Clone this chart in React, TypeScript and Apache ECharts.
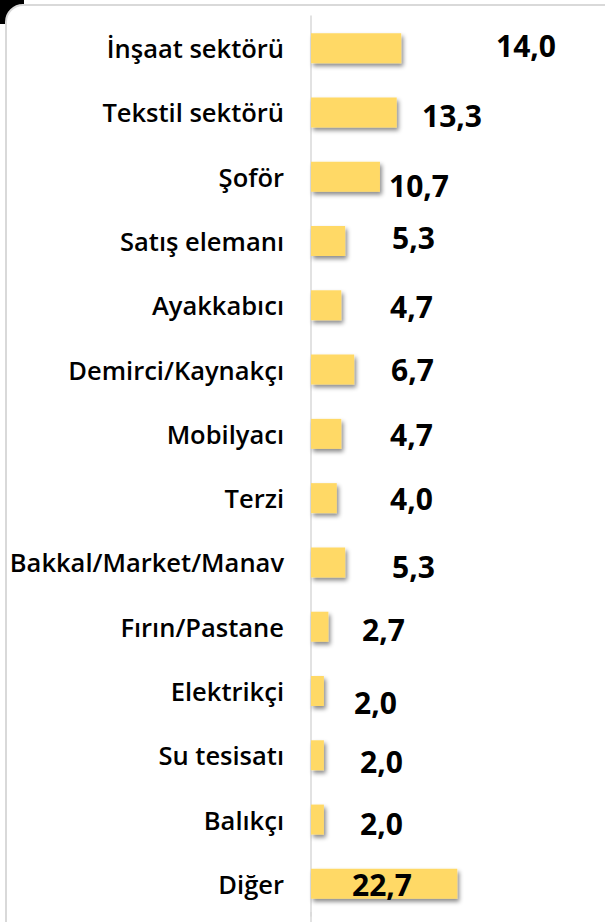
import React, { useEffect, useRef } from "react";
import * as echarts from "echarts";

const categories = [
  "İnşaat sektörü",
  "Tekstil sektörü",
  "Şoför",
  "Satış elemanı",
  "Ayakkabıcı",
  "Demirci/Kaynakçı",
  "Mobilyacı",
  "Terzi",
  "Bakkal/Market/Manav",
  "Fırın/Pastane",
  "Elektrikçi",
  "Su tesisatı",
  "Balıkçı",
  "Diğer",
];

const values = [14.0, 13.3, 10.7, 5.3, 4.7, 6.7, 4.7, 4.0, 5.3, 2.7, 2.0, 2.0, 2.0, 22.7];

// manual label placement (layout only), [dx from bar start, dy from bar centre]
const labelOffsets: [number, number][] = [
  [185, -3], [111, 3], [78, 9], [81, -4], [79, 1], [80, 0], [79, 1],
  [79, 0], [81, 4], [51, 3], [43, 11], [49, 6], [49, 4], [41, 1],
];

export default function App() {
  const ref = useRef<HTMLDivElement>(null);
  useEffect(() => {
    if (!ref.current) return;
    const chart = echarts.init(ref.current, null, { renderer: "svg" });
    const data = values.map((v, i) => ({
      value: v,
      label: { offset: labelOffsets[i] },
    }));
    chart.setOption({
      animation: false,
      backgroundColor: "#ffffff",
      graphic: [
        { type: "rect", z: -20, shape: { x: 0, y: 0, width: 24, height: 24 }, style: { fill: "#000000" } },
        {
          type: "rect",
          z: -10,
          shape: { x: 6, y: 5, width: 700, height: 1000, r: [17, 0, 0, 0] },
          style: { fill: "#ffffff", stroke: "#d9d9d9", lineWidth: 2 },
        },
        {
          type: "line",
          z: -5,
          shape: { x1: 311, y1: 912, x2: 311, y2: 922 },
          style: { stroke: "#d9d9d9", lineWidth: 1.5 },
        },
      ],
      grid: { left: 311, top: 16, width: 290, height: 900, containLabel: false },
      xAxis: { type: "value", min: 0, max: 45, show: false },
      yAxis: {
        type: "category",
        inverse: true,
        data: categories,
        axisTick: { show: false },
        axisLine: { show: true, lineStyle: { color: "#d9d9d9", width: 1.5 } },
        axisLabel: {
          margin: 27,
          fontSize: 25.5,
          fontWeight: 600,
          fontFamily: "Open Sans",
          color: "#000000",
        },
      },
      series: [
        {
          type: "bar",
          data,
          barWidth: 30,
          itemStyle: {
            color: "#FFD966",
            shadowColor: "rgba(0,0,0,0.45)",
            shadowBlur: 4,
            shadowOffsetX: 2,
            shadowOffsetY: 3,
          },
          label: {
            show: true,
            position: "insideLeft",
            distance: 0,
            fontSize: 30,
            fontWeight: "bold",
            fontFamily: "Open Sans",
            color: "#000000",
            formatter: (p: any) => Number(p.value).toFixed(1).replace(".", ","),
          },
        },
      ],
    });
    return () => chart.dispose();
  }, []);
  return (
    <div
      ref={ref}
      style={{ position: "fixed", left: 0, top: 0, width: 605, height: 922, background: "#fff" }}
    />
  );
}
